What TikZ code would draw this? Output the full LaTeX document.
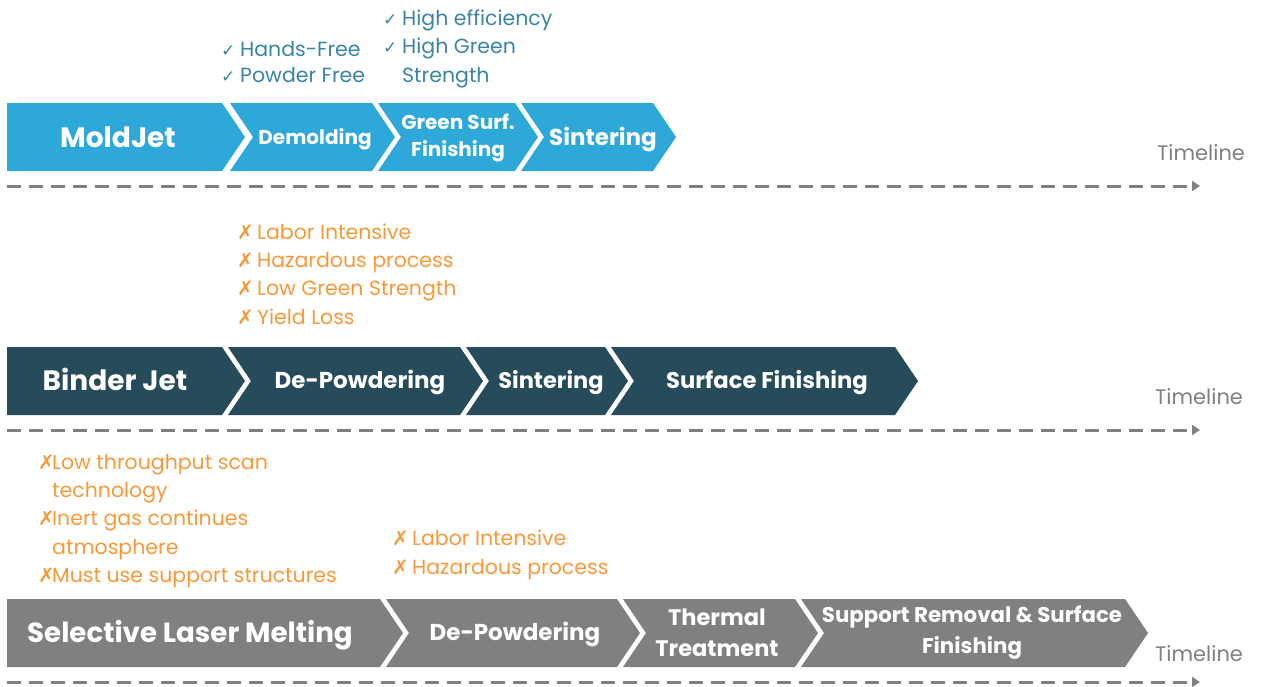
\documentclass[tikz,border=0pt]{standalone}
\usepackage{fontspec}
\setmainfont{Poppins}
\newfontfamily\symf{DejaVu Sans}
\usetikzlibrary{arrows.meta}
\definecolor{mjblue}{RGB}{46,168,216}
\definecolor{bjteal}{RGB}{38,75,90}
\definecolor{slmgray}{RGB}{128,128,131}
\definecolor{okblue}{RGB}{58,132,165}
\definecolor{badorange}{RGB}{247,153,58}
\definecolor{tlgray}{RGB}{128,128,128}
\newcommand\chevseg[5]{%
  \fill[#4] (#1,#3-34) -- (#2,#3-34) -- (#2+23,#3) -- (#2,#3+34) -- (#1,#3+34) -- (#1+#5,#3) -- cycle;}
\newcommand\okmark{\makebox[19pt][l]{\symf\fontsize{17}{17}\selectfont ✓}}
\newcommand\badmark{\makebox[20pt][l]{\symf\fontsize{20}{20}\selectfont ✗}}
\newcommand\badmarkt{\makebox[14pt][l]{\symf\fontsize{20}{20}\selectfont ✗}}
\begin{document}
\begin{tikzpicture}[x=1pt,y=-1pt,
  boxbig/.style={text=white,font=\bfseries\fontsize{28}{30}\selectfont,inner sep=0pt,text height=20pt,text depth=0pt},
  boxtxt/.style={text=white,font=\bfseries\fontsize{20}{30}\selectfont,inner sep=0pt,align=center},
  oneline/.style={text height=15pt,text depth=0pt},
  oktxt/.style={text=okblue,font=\fontsize{20.5}{24}\selectfont,anchor=west,inner sep=0pt,text height=14pt,text depth=0pt},
  badtxt/.style={text=badorange,font=\fontsize{20.5}{24}\selectfont,anchor=west,inner sep=0pt,text height=14pt,text depth=0pt},
  tltxt/.style={text=tlgray,font=\fontsize{21}{24}\selectfont,inner sep=0pt,text height=14pt,text depth=0pt},
  tline/.style={draw=tlgray,line width=3pt,dash pattern=on 14pt off 8pt,-{Triangle[length=8pt,width=10pt]}}]
\useasboundingbox (0,0) rectangle (1264,686);
% ---------- MoldJet ----------
\chevseg{7}{222}{137}{mjblue}{0}
\chevseg{230}{372}{137}{mjblue}{23}
\chevseg{378}{515}{137}{mjblue}{23}
\chevseg{521}{653}{137}{mjblue}{23}
\node[boxbig] (mj) at (118,137) {MoldJet};
\node[boxtxt,oneline,text height=14pt] (mj1) at (315,137) {Demolding};
\node[boxtxt] (mj2) at (458,138) {Green Surf.\\[-3pt]Finishing};
\node[boxtxt,oneline,font=\bfseries\fontsize{23}{30}\selectfont,text height=16pt] (mj3) at (603,137) {Sintering};
\node[oktxt] (ok1) at (221,49) {\okmark Hands-Free};
\node[oktxt] (ok2) at (221,75) {\okmark Powder Free};
\node[oktxt] (ok3) at (383,18) {\okmark High efficiency};
\node[oktxt] (ok4) at (383,46) {\okmark High Green};
\node[oktxt] (ok5) at (402,75) {Strength};
\node[tltxt] (tl1) at (1201,153) {Timeline};
\coordinate (t1s) at (7,186);
\coordinate (t1e) at (1200,186);
\draw[tline] (t1s) -- (t1e);
% ---------- Binder Jet ----------
\node[badtxt] (b1) at (237,232) {\badmark Labor Intensive};
\node[badtxt] (b2) at (237,260) {\badmark Hazardous process};
\node[badtxt] (b3) at (237,288) {\badmark Low Green Strength};
\node[badtxt] (b4) at (237,317) {\badmark Yield Loss};
\chevseg{7}{222}{381}{bjteal}{0}
\chevseg{228}{460}{381}{bjteal}{23}
\chevseg{466}{605}{381}{bjteal}{23}
\chevseg{611}{895}{381}{bjteal}{23}
\node[boxbig] (bj) at (115,380) {Binder Jet};
\node[boxtxt,oneline,font=\bfseries\fontsize{23}{30}\selectfont,text height=16pt] (bj1) at (360,380) {De-Powdering};
\node[boxtxt,oneline,font=\bfseries\fontsize{22.5}{30}\selectfont,text height=16pt] (bj2) at (551,380) {Sintering};
\node[boxtxt,oneline,font=\bfseries\fontsize{22.7}{30}\selectfont,text height=16pt] (bj3) at (767,380) {Surface Finishing};
\node[tltxt] (tl2) at (1199,397) {Timeline};
\coordinate (t2s) at (7,430);
\coordinate (t2e) at (1200,430);
\draw[tline] (t2s) -- (t2e);
% ---------- SLM ----------
\node[badtxt] (s1) at (38,462) {\badmarkt Low throughput scan};
\node[badtxt] (s2) at (52,490) {technology};
\node[badtxt] (s3) at (38,518) {\badmarkt Inert gas continues};
\node[badtxt] (s4) at (52,547) {atmosphere};
\node[badtxt] (s5) at (38,575) {\badmarkt Must use support structures};
\node[badtxt] (s6) at (392,538) {\badmark Labor Intensive};
\node[badtxt] (s7) at (392,567) {\badmark Hazardous process};
\chevseg{7}{380}{633}{slmgray}{0}
\chevseg{386}{617}{633}{slmgray}{23}
\chevseg{623}{795}{633}{slmgray}{23}
\chevseg{801}{1125}{633}{slmgray}{23}
\node[boxbig,font=\bfseries\fontsize{27.7}{30}\selectfont] (sl) at (190,632) {Selective Laser Melting};
\node[boxtxt,oneline,font=\bfseries\fontsize{23}{30}\selectfont,text height=16pt] (sl1) at (515,632) {De-Powdering};
\node[boxtxt,font=\bfseries\fontsize{22.5}{30}\selectfont] (sl2) at (717,633) {Thermal\\[1pt]Treatment};
\node[boxtxt,font=\bfseries\fontsize{21.3}{30}\selectfont] (sl3) at (972,633) {Support Removal \& Surface\\[1pt]Finishing};
\node[tltxt] (tl3) at (1199,654) {Timeline};
\coordinate (t3s) at (7,682);
\coordinate (t3e) at (1200,682);
\draw[tline] (t3s) -- (t3e);
\end{tikzpicture}
\end{document}
